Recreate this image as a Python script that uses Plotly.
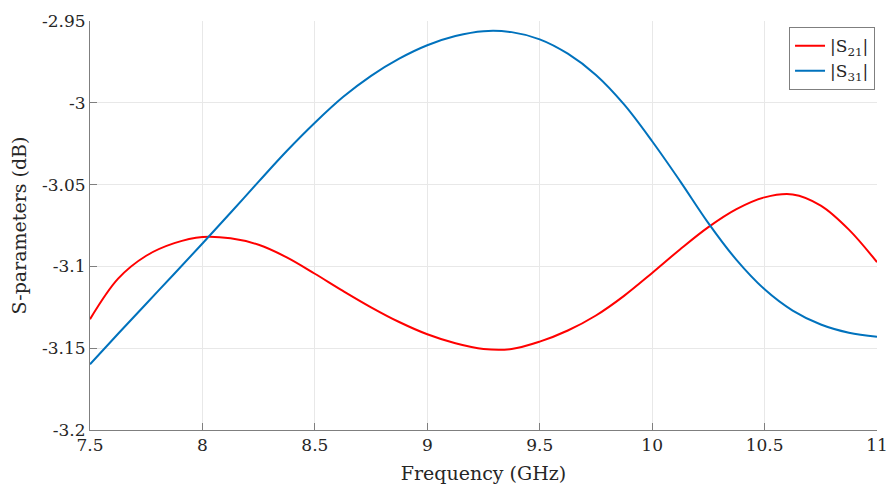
import plotly.graph_objects as go

# Frequency sweep (GHz) and magnitudes (dB)
freq = [7.5, 7.625, 7.75, 7.875, 8.0, 8.125, 8.25, 8.375, 8.5, 8.625, 8.75, 8.875, 9.0, 9.125,
        9.25, 9.375, 9.5, 9.625, 9.75, 9.875, 10.0, 10.125, 10.25, 10.375, 10.5, 10.625, 10.75,
        10.875, 11.0]
s21_db = [-3.1323, -3.1075, -3.0935, -3.0858, -3.0820, -3.0828, -3.0868, -3.0945, -3.1045, -3.1150,
          -3.1250, -3.1340, -3.1415, -3.1470, -3.1505, -3.1505, -3.1460, -3.1392, -3.1300, -3.1180,
          -3.1040, -3.0895, -3.0760, -3.0650, -3.0578, -3.0560, -3.0628, -3.0775, -3.0974]
s31_db = [-3.1598, -3.1412, -3.1228, -3.1045, -3.0860, -3.0672, -3.0482, -3.0295, -3.0122, -2.9965,
          -2.9835, -2.9730, -2.9648, -2.9592, -2.9562, -2.9568, -2.9612, -2.9700, -2.9830, -3.0010,
          -3.0235, -3.0480, -3.0735, -3.0960, -3.1140, -3.1270, -3.1355, -3.1405, -3.1430]

x_ticks = [7.5, 8, 8.5, 9, 9.5, 10, 10.5, 11]
x_tick_text = ["7.5", "8", "8.5", "9", "9.5", "10", "10.5", "11"]
y_ticks = [-3.2, -3.15, -3.1, -3.05, -3.0, -2.95]
y_tick_text = ["-3.2", "-3.15", "-3.1", "-3.05", "-3", "-2.95"]

FONT = "DejaVu Serif, Liberation Serif, serif"
AXIS_GRAY = "#7f7f7f"
TEXT = "#262626"

fig = go.Figure()
fig.add_trace(go.Scatter(x=freq, y=s21_db, mode="lines", name="|S<sub>21</sub>|",
                         line=dict(color="#ff0000", width=2, shape="spline", smoothing=1.0)))
fig.add_trace(go.Scatter(x=freq, y=s31_db, mode="lines", name="|S<sub>31</sub>|",
                         line=dict(color="#0072bd", width=2, shape="spline", smoothing=1.0)))

fig.update_layout(
    width=894, height=498,
    margin=dict(l=90, r=17, t=21, b=68),
    paper_bgcolor="white", plot_bgcolor="white",
    font=dict(family=FONT, size=17, color=TEXT),
    showlegend=True,
    legend=dict(x=0.9975, y=0.985, xanchor="right", yanchor="top",
                bgcolor="white", bordercolor=AXIS_GRAY, borderwidth=1,
                font=dict(family=FONT, size=17, color=TEXT), tracegroupgap=0,
                itemwidth=30),
)
fig.update_xaxes(
    range=[7.5, 11], tickvals=x_ticks, ticktext=x_tick_text, automargin=False,
    showgrid=True, gridcolor="#e8e8e8", gridwidth=1,
    showline=True, linecolor=AXIS_GRAY, linewidth=1, mirror=False,
    ticks="inside", ticklen=7, tickcolor=AXIS_GRAY, zeroline=False,
    title=dict(text="Frequency (GHz)", font=dict(family=FONT, size=19, color=TEXT), standoff=12),
    tickfont=dict(family=FONT, size=17, color=TEXT),
)
fig.update_yaxes(
    range=[-3.2, -2.95], tickvals=y_ticks, ticktext=y_tick_text, automargin=False,
    showgrid=True, gridcolor="#e8e8e8", gridwidth=1,
    showline=True, linecolor=AXIS_GRAY, linewidth=1, mirror=False,
    ticks="inside", ticklen=7, tickcolor=AXIS_GRAY, zeroline=False,
    title=dict(text="S-parameters (dB)", font=dict(family=FONT, size=19, color=TEXT), standoff=10),
    tickfont=dict(family=FONT, size=17, color=TEXT),
)

fig.write_html("out.html")
